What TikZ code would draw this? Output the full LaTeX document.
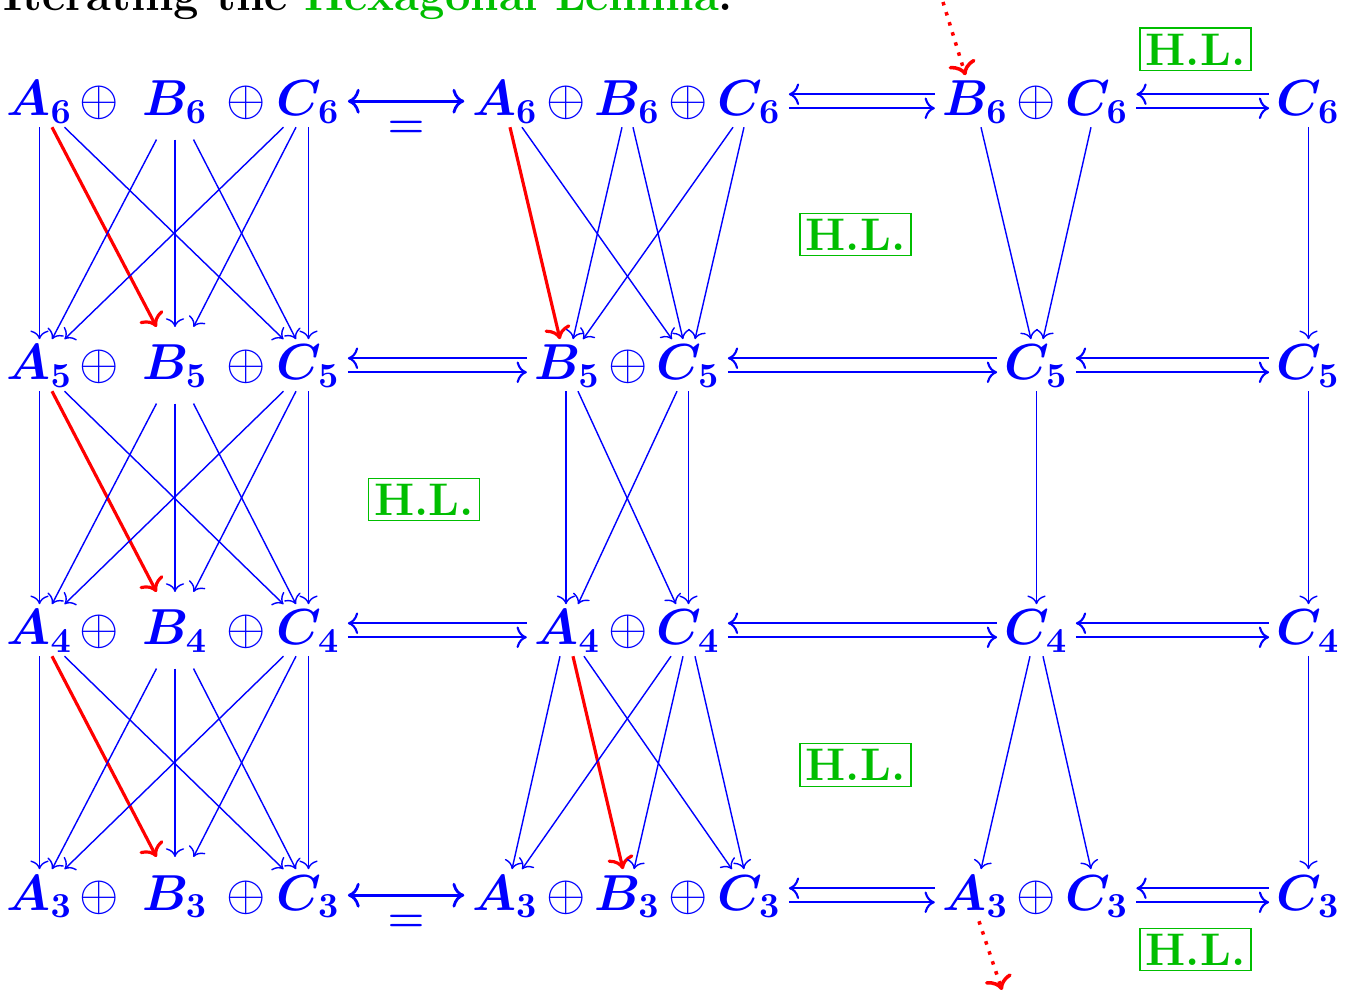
\documentclass[tikz,border=0pt]{standalone}
\usepackage{tikz}
\usetikzlibrary{arrows, arrows.meta, calc}
\definecolor{hlgreen}{RGB}{0,190,0}
\tikzset{
	term/.style={text=blue, font=\Large\boldmath, text height=9.4pt, text depth=1pt, inner sep=2pt, anchor=base}
}
\tikzset{
	bterm/.style={term, inner ysep=5.5pt}
}
\tikzset{
	opnode/.style={term, font=\Large}
}
\tikzset{
	hl/.style={draw=hlgreen, text=hlgreen, font=\fontsize{13}{15}\selectfont\bfseries, inner sep=1.6pt}
}
\tikzset{
	thinarr/.style={->, blue, thin},
	redarr/.style={->, red, line width=0.9pt},
	biarr/.style={<->, blue, thick},
	dblarr/.style={blue, semithick},
	dotarr/.style={->, red, dotted, line width=1pt}
}
\newcommand{\dblarrow}[2]{%
  \draw[dblarr, <-] ([yshift=2pt]#1.east) -- ([yshift=2pt]#2.west);
  \draw[dblarr, ->] ([yshift=-2pt]#1.east) -- ([yshift=-2pt]#2.west);}

\begin{document}
\begin{tikzpicture}
      \useasboundingbox (0,0) rectangle (13.47,9.95);
      \node[anchor=base west, inner sep=0pt, font=\fontsize{12.9}{15}\selectfont\bfseries] (title) at (0.03,9.84) {Iterating the \textcolor{hlgreen}{Hexagonal Lemma}.};
      \foreach \r/\y in {6/8.79,5/6.15,4/3.50,3/0.85} {
        \node[term] (lA\r) at (0.395,\y) {$A_{\r}$};
        \node[opnode] (lpa\r) at (0.99,\y) {$\oplus$};
        \node[bterm] (lB\r) at (1.75,\y) {$B_{\r}$};
        \node[opnode] (lpb\r) at (2.465,\y) {$\oplus$};
        \node[term] (lC\r) at (3.085,\y) {$C_{\r}$};
      }
      \node[term] (mA6) at (5.05,8.79) {$A_6$};
      \node[opnode] (mpa6) at (5.665,8.79) {$\oplus$};
      \node[term] (mB6) at (6.275,8.79) {$B_6$};
      \node[opnode] (mpb6) at (6.885,8.79) {$\oplus$};
      \node[term] (mC6) at (7.495,8.79) {$C_6$};
      \node[term] (rB6) at (9.755,8.79) {$B_6$};
      \node[opnode] (rp6) at (10.365,8.79) {$\oplus$};
      \node[term] (rC6) at (10.97,8.79) {$C_6$};
      \node[term] (eC6) at (13.085,8.79) {$C_6$};
      \node[term] (mB5) at (5.675,6.15) {$B_5$};
      \node[opnode] (mp5) at (6.285,6.15) {$\oplus$};
      \node[term] (mC5) at (6.885,6.15) {$C_5$};
      \node[term] (rC5) at (10.365,6.15) {$C_5$};
      \node[term] (eC5) at (13.085,6.15) {$C_5$};
      \node[term] (mA4) at (5.675,3.50) {$A_4$};
      \node[opnode] (mp4) at (6.285,3.50) {$\oplus$};
      \node[term] (mC4) at (6.885,3.50) {$C_4$};
      \node[term] (rC4) at (10.365,3.50) {$C_4$};
      \node[term] (eC4) at (13.085,3.50) {$C_4$};
      \node[term] (mA3) at (5.05,0.85) {$A_3$};
      \node[opnode] (mpa3) at (5.665,0.85) {$\oplus$};
      \node[term] (mB3) at (6.275,0.85) {$B_3$};
      \node[opnode] (mpb3) at (6.885,0.85) {$\oplus$};
      \node[term] (mC3) at (7.495,0.85) {$C_3$};
      \node[term] (rA3) at (9.755,0.85) {$A_3$};
      \node[opnode] (rp3) at (10.365,0.85) {$\oplus$};
      \node[term] (rC3) at (10.97,0.85) {$C_3$};
      \node[term] (eC3) at (13.085,0.85) {$C_3$};
      \node[hl] (hl1) at (11.955,9.455) {H.L.};
      \node[hl] (hl2) at (8.555,7.605) {H.L.};
      \node[hl] (hl3) at (4.24,4.955) {H.L.};
      \node[hl] (hl4) at (8.555,2.30) {H.L.};
      \node[hl] (hl5) at (11.955,0.455) {H.L.};
      \foreach \r/\s in {6/5,5/4,4/3}
        \foreach \a/\i/\wa in {A/0/0.125,B/1/0.185,C/2/0.125}
          \foreach \b/\j/\wb in {A/0/0.125,B/1/0.185,C/2/0.125} {
            \ifnum\i\j=1
              \draw[redarr] ([xshift={(\j-\i)*\wa*1cm}]l\a\r.south) -- ([xshift={(\i-\j)*\wb*1cm}]l\b\s.north);
            \else
              \draw[thinarr] ([xshift={(\j-\i)*\wa*1cm}]l\a\r.south) -- ([xshift={(\i-\j)*\wb*1cm}]l\b\s.north);
            \fi
          }
      \draw[redarr] ([xshift=0.05cm]mA6.south) -- ([xshift=-0.075cm]mB5.north);
      \draw[thinarr] ([xshift=0.17cm]mA6.south) -- ([xshift=-0.165cm]mC5.north);
      \draw[thinarr] ([xshift=-0.055cm]mB6.south) -- ([xshift=0.055cm]mB5.north);
      \draw[thinarr] ([xshift=0.055cm]mB6.south) -- ([xshift=-0.055cm]mC5.north);
      \draw[thinarr] ([xshift=-0.165cm]mC6.south) -- ([xshift=0.155cm]mB5.north);
      \draw[thinarr] ([xshift=-0.055cm]mC6.south) -- ([xshift=0.065cm]mC5.north);
      \draw[thinarr] ([xshift=-0.015cm]mB5.south) -- ([xshift=-0.015cm]mA4.north);
      \draw[thinarr] ([xshift=0.105cm]mB5.south) -- ([xshift=-0.125cm]mC4.north);
      \draw[thinarr] ([xshift=-0.115cm]mC5.south) -- ([xshift=0.105cm]mA4.north);
      \draw[thinarr] (mC5.south) -- (mC4.north);
      \draw[thinarr] ([xshift=-0.075cm]mA4.south) -- ([xshift=0.07cm]mA3.north);
      \draw[redarr] ([xshift=0.055cm]mA4.south) -- ([xshift=-0.045cm]mB3.north);
      \draw[thinarr] ([xshift=0.165cm]mA4.south) -- ([xshift=-0.175cm]mC3.north);
      \draw[thinarr] ([xshift=-0.175cm]mC4.south) -- ([xshift=0.17cm]mA3.north);
      \draw[thinarr] ([xshift=-0.055cm]mC4.south) -- ([xshift=0.065cm]mB3.north);
      \draw[thinarr] ([xshift=0.065cm]mC4.south) -- ([xshift=-0.055cm]mC3.north);
      \draw[thinarr] ([xshift=0.055cm]rB6.south) -- ([xshift=-0.055cm]rC5.north);
      \draw[thinarr] ([xshift=-0.06cm]rC6.south) -- ([xshift=0.065cm]rC5.north);
      \draw[thinarr] (rC5.south) -- (rC4.north);
      \draw[thinarr] ([xshift=-0.065cm]rC4.south) -- ([xshift=0.055cm]rA3.north);
      \draw[thinarr] ([xshift=0.065cm]rC4.south) -- ([xshift=-0.06cm]rC3.north);
      \draw[thinarr] (eC6.south) -- (eC5.north);
      \draw[thinarr] (eC5.south) -- (eC4.north);
      \draw[thinarr] (eC4.south) -- (eC3.north);
      \draw[biarr] (lC6.east) -- node[below=2pt, font=\large\boldmath, text=blue] (eq6) {$=$} (mA6.west);
      \draw[biarr] (lC3.east) -- node[below=2pt, font=\large\boldmath, text=blue] (eq3) {$=$} (mA3.west);
      \dblarrow{mC6}{rB6}
      \dblarrow{rC6}{eC6}
      \dblarrow{lC5}{mB5}
      \dblarrow{mC5}{rC5}
      \dblarrow{rC5}{eC5}
      \dblarrow{lC4}{mA4}
      \dblarrow{mC4}{rC4}
      \dblarrow{rC4}{eC4}
      \dblarrow{mC3}{rA3}
      \dblarrow{rC3}{eC3}
      \coordinate (topin) at (9.43,9.93);
      \coordinate (botout) at (10.02,0.05);
      \draw[dotarr] (topin) -- ([xshift=-0.1cm]rB6.north);
      \draw[dotarr] ([xshift=0.035cm]rA3.south) -- (botout);
    \end{tikzpicture}
\end{document}
